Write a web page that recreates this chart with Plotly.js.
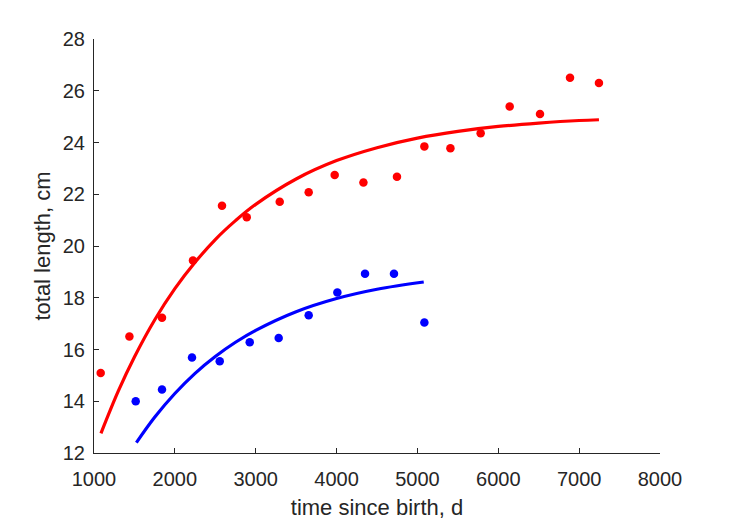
<!DOCTYPE html>
<html>
<head>
<meta charset="utf-8">
<script src="https://cdn.plot.ly/plotly-3.0.1.min.js"></script>
<style>html,body{margin:0;padding:0;background:#fff;}#chart{width:729px;height:521px;}</style>
</head>
<body>
<div id="chart"></div>
<script>
// Observed data: females (red)
const redDays = [1083, 1438, 1841, 2224, 2583, 2889, 3297, 3655, 3977, 4332, 4747, 5086, 5408, 5782, 6141, 6516, 6887, 7245];
const redLength = [15.09, 16.50, 17.23, 19.44, 21.56, 21.11, 21.71, 22.08, 22.74, 22.45, 22.68, 23.85, 23.78, 24.36, 25.39, 25.10, 26.50, 26.30];
// Observed data: males (blue)
const blueDays = [1516, 1841, 2212, 2555, 2926, 3284, 3655, 4010, 4352, 4710, 5086];
const blueLength = [14.00, 14.45, 15.69, 15.55, 16.28, 16.44, 17.32, 18.20, 18.93, 18.93, 17.04];
// Fitted growth curves
const redFitDays = [1086, 1300, 1500, 1750, 2000, 2250, 2500, 2750, 3000, 3500, 4000, 4500, 5000, 5500, 6000, 6500, 7000, 7245];
const redFitLength = [12.76, 14.39, 15.71, 17.14, 18.35, 19.37, 20.25, 20.98, 21.61, 22.59, 23.30, 23.80, 24.17, 24.43, 24.62, 24.75, 24.85, 24.88];
const blueFitDays = [1524, 1750, 2000, 2250, 2500, 2750, 3000, 3500, 4000, 4500, 5078];
const blueFitLength = [12.40, 13.38, 14.30, 15.08, 15.73, 16.28, 16.74, 17.46, 17.97, 18.33, 18.61];
// Axis ticks
const xTicks = [1000, 2000, 3000, 4000, 5000, 6000, 7000, 8000];
const yTicks = [12, 14, 16, 18, 20, 22, 24, 26, 28];

const RED = '#FF0000', BLUE = '#0000FF', AX = '#262626';
const FONT = 'Liberation Sans, Arial, Helvetica, sans-serif';

const traces = [
  {x: redFitDays, y: redFitLength, mode: 'lines', line: {color: RED, width: 3.2, shape: 'spline'}, hoverinfo: 'skip'},
  {x: blueFitDays, y: blueFitLength, mode: 'lines', line: {color: BLUE, width: 3.2, shape: 'spline'}, hoverinfo: 'skip'},
  {x: redDays, y: redLength, mode: 'markers', marker: {color: RED, size: 8.5}},
  {x: blueDays, y: blueLength, mode: 'markers', marker: {color: BLUE, size: 8.5}}
];

const axisCommon = {
  showgrid: false, zeroline: false, showline: true, linecolor: AX, linewidth: 1,
  ticks: 'inside', ticklen: 5, tickwidth: 1, tickcolor: AX,
  tickfont: {family: FONT, size: 20, color: AX}, mirror: false
};

const layout = {
  width: 729, height: 521,
  margin: {l: 94, r: 69, t: 39, b: 68},
  paper_bgcolor: '#fff', plot_bgcolor: '#fff',
  showlegend: false,
  xaxis: Object.assign({}, axisCommon, {
    range: [1000, 8000], tickvals: xTicks, ticktext: xTicks.map(String),
    ticklabelstandoff: 8,
    title: {text: 'time since birth, d', font: {family: FONT, size: 22, color: AX}, standoff: 10}
  }),
  yaxis: Object.assign({}, axisCommon, {
    range: [12, 28], tickvals: yTicks, ticktext: yTicks.map(String),
    ticklabelstandoff: 4,
    title: {text: 'total length, cm', font: {family: FONT, size: 22, color: AX}, standoff: 6}
  })
};

Plotly.newPlot('chart', traces, layout, {displayModeBar: false, staticPlot: true});
</script>
</body>
</html>
